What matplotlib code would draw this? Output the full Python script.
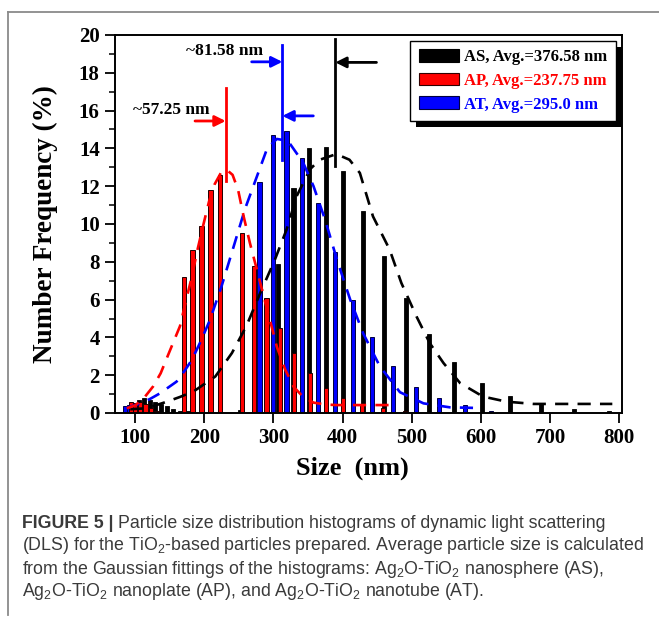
import matplotlib
matplotlib.use('Agg')
import matplotlib.pyplot as plt
from matplotlib.patches import Patch, Rectangle
from matplotlib.lines import Line2D
from matplotlib.transforms import IdentityTransform
from matplotlib.ticker import MultipleLocator

plt.rcParams['font.family'] = ['Liberation Serif', 'DejaVu Serif']
plt.rcParams['font.weight'] = 'bold'
plt.rcParams['axes.labelweight'] = 'bold'
plt.rcParams['mathtext.default'] = 'regular'

# ---------------- data ----------------
as_size = [106, 113, 121, 129, 137, 146, 155, 165, 176, 252, 307, 329, 351, 376, 401,
           430, 460, 492, 525, 561, 601, 642, 687, 735, 785]
as_freq = [0.7, 0.78, 0.7, 0.6, 0.5, 0.35, 0.2, 0.1, 0.08, 0.15, 7.9, 11.9, 14.0, 14.1, 12.8,
           10.7, 8.3, 6.1, 4.2, 2.7, 1.6, 0.9, 0.5, 0.2, 0.12]

ap_size = [94, 100, 107, 115, 123, 131, 171, 183, 196, 209, 223, 254, 272, 290, 309,
           330, 353, 376, 401, 428, 458, 490]
ap_freq = [0.6, 0.55, 0.6, 0.45, 0.25, 0.1, 7.2, 8.6, 9.9, 11.8, 12.6, 9.5, 7.8, 6.1, 4.5,
           3.2, 2.1, 1.3, 0.8, 0.47, 0.27, 0.1]

at_size = [86, 92, 99, 105, 112, 280, 299, 319, 341, 364, 389, 415, 443, 473, 506,
           540, 577, 615]
at_freq = [0.35, 0.4, 0.45, 0.4, 0.3, 12.2, 14.7, 14.9, 13.5, 11.1, 8.5, 6.0, 4.0, 2.5, 1.4,
           0.8, 0.4, 0.1]

# Gaussian fit curves
as_fit_x = [93, 117, 146, 165, 185, 216, 240, 261, 281, 302, 319, 334, 353, 367, 391, 410,
            425, 444, 468, 485, 507, 526, 546, 570, 603, 637, 676, 790]
as_fit_y = [0.2, 0.25, 0.6, 0.85, 1.15, 1.93, 3.17, 4.6, 6.35, 8.1, 9.7, 11.5, 12.9, 13.4,
            13.7, 13.4, 12.7, 10.4, 8.65, 6.88, 5.1, 3.7, 2.64, 1.58, 0.87, 0.6, 0.48, 0.48]

ap_fit_x = [88, 100, 113, 126, 137, 147, 156, 165, 174, 182, 190, 199, 207, 215, 224, 233,
            241, 249, 257, 266, 276, 283, 290, 298, 305, 317, 329, 343, 358, 375, 391, 430, 468]
ap_fit_y = [0.25, 0.4, 0.8, 1.4, 2.1, 3.0, 3.8, 4.6, 6.0, 7.2, 8.6, 10.0, 11.2, 12.1, 12.7,
            12.85, 12.6, 11.8, 10.4, 9.0, 7.6, 6.6, 5.6, 4.5, 3.5, 2.3, 1.4, 0.85, 0.55, 0.45,
            0.42, 0.42, 0.42]

at_fit_x = [88, 107, 122, 136, 148, 160, 171, 182, 195, 208, 225, 240, 259, 276, 291, 305,
            321, 343, 358, 375, 392, 411, 430, 454, 483, 517, 555, 590]
at_fit_y = [0.27, 0.5, 0.75, 1.04, 1.35, 1.66, 2.2, 2.8, 3.8, 4.9, 6.7, 8.5, 10.8, 12.5, 14.0,
            14.5, 14.4, 13.25, 12.0, 10.2, 8.1, 6.0, 4.2, 2.46, 1.1, 0.51, 0.3, 0.27]

legend_labels = ['AS, Avg.=376.58 nm', 'AP, Avg.=237.75 nm', 'AT, Avg.=295.0 nm']
x_ticks = [100, 200, 300, 400, 500, 600, 700, 800]
y_ticks = [0, 2, 4, 6, 8, 10, 12, 14, 16, 18, 20]

caption_lines = [
    'Particle size distribution histograms of dynamic light scattering',
    '(DLS) for the TiO$_\\mathregular{2}$-based particles prepared. Average particle size is calculated',
    'from the Gaussian fittings of the histograms: Ag$_\\mathregular{2}$O-TiO$_\\mathregular{2}$ nanosphere (AS),',
    'Ag$_\\mathregular{2}$O-TiO$_\\mathregular{2}$ nanoplate (AP), and Ag$_\\mathregular{2}$O-TiO$_\\mathregular{2}$ nanotube (AT).',
]

# ---------------- figure ----------------
W, H = 659, 621
fig = plt.figure(figsize=(W / 100, H / 100), dpi=100)
ax = fig.add_axes([115 / W, 1 - 413 / H, 507 / W, 378 / H])

BLUE = '#0000ff'
RED = '#ff0000'

ax.bar(as_size, as_freq, width=6, color='black', edgecolor='black', linewidth=0.6, zorder=2)
ax.bar(at_size, at_freq, width=6, color=BLUE, edgecolor='#000040', linewidth=0.7, zorder=2.1)
ax.bar(ap_size, ap_freq, width=6, color=RED, edgecolor='#200000', linewidth=0.7, zorder=2.2)

dash = (0, (5, 3.5))
ax.plot(as_fit_x, as_fit_y, color='black', lw=1.9, ls=dash, zorder=3)
ax.plot(at_fit_x, at_fit_y, color=BLUE, lw=1.9, ls=dash, zorder=3.1)
ax.plot(ap_fit_x, ap_fit_y, color=RED, lw=1.9, ls=dash, zorder=3.2)

# width annotations
def arrow(x0, x1, y, c):
    ax.annotate('', xy=(x1, y), xytext=(x0, y),
                arrowprops=dict(arrowstyle='-|>', color=c, lw=2, mutation_scale=16,
                                shrinkA=0, shrinkB=0), zorder=4)

ax.plot([231, 231], [12.3, 17.2], color=RED, lw=2, zorder=4)
arrow(186.7, 231, 15.45, RED)
ax.text(152.7, 16.04, '~57.25 nm', ha='center', va='center', fontsize=12.5, color='black')

ax.plot([313, 313], [13.4, 19.45], color=BLUE, lw=2, zorder=4)
arrow(268.6, 313, 18.58, BLUE)
arrow(357.7, 313, 15.72, BLUE)
ax.text(230, 19.17, '~81.58 nm', ha='center', va='center', fontsize=12.5, color='black')

ax.plot([389.5, 389.5], [13.07, 19.8], color='black', lw=2, zorder=4)
arrow(449, 389.5, 18.55, 'black')

# axes styling
ax.set_xlim(71, 804)
ax.set_ylim(0, 20)
ax.set_xticks(x_ticks)
ax.set_yticks(y_ticks)
ax.yaxis.set_minor_locator(MultipleLocator(1))
ax.tick_params(axis='both', which='major', direction='out', length=7, width=1.3,
               labelsize=15, pad=4, top=False, right=False)
ax.tick_params(axis='y', which='minor', direction='out', length=4, width=1.1)
for s in ax.spines.values():
    s.set_linewidth(1.4)

ax.set_xlabel('Size  (nm)', fontsize=19, fontweight='bold')
ax.xaxis.set_label_coords(0.469, -0.115)
ax.set_ylabel('Number Frequency (%)', fontsize=19.5, fontweight='bold')
ax.yaxis.set_label_coords(-0.112, 0.5)

# legend
handles = [Patch(facecolor='black', edgecolor='black', lw=0.8),
           Patch(facecolor=RED, edgecolor='#300000', lw=0.8),
           Patch(facecolor=BLUE, edgecolor='#000040', lw=0.8)]
leg = ax.legend(handles, legend_labels, loc='upper right', bbox_to_anchor=(0.988, 0.985),
                fancybox=False, framealpha=1, edgecolor='black', fontsize=12,
                handlelength=2.4, handleheight=0.8, handletextpad=0.35,
                borderpad=0.5, labelspacing=0.45, borderaxespad=0)
leg.get_frame().set_linewidth(1.0)
leg.set_zorder(6)
for t, c in zip(leg.get_texts(), ['black', RED, BLUE]):
    t.set_color(c)

# page frame lines
fig.add_artist(Line2D([8 / W, 1.0], [1 - 12 / H, 1 - 12 / H], color='#8a8a8a', lw=1.3,
                      transform=fig.transFigure))
fig.add_artist(Line2D([8 / W, 8 / W], [1 - 12 / H, 1 - 615 / H], color='#8a8a8a', lw=1.3,
                      transform=fig.transFigure))

# caption
cap_font = dict(family=['Liberation Sans', 'DejaVu Sans'], fontsize=12.8, color='#3a3a3a')
line_y = [523, 546, 569, 591]
t0 = fig.text(22 / W, 1 - line_y[0] / H, 'FIGURE 5 |', va='center', ha='left',
              fontweight='bold', **cap_font)

fig.canvas.draw()
r = fig.canvas.get_renderer()
bb = t0.get_window_extent(r)
fig.text((bb.x1 + 4) / W, 1 - line_y[0] / H, caption_lines[0], va='center', ha='left',
         fontweight='normal', **cap_font)
for yy, txt in zip(line_y[1:], caption_lines[1:]):
    fig.text(22 / W, 1 - yy / H, txt, va='center', ha='left', fontweight='normal', **cap_font)

# legend shadow
lb = leg.get_frame().get_window_extent(r)
ax.add_patch(Rectangle((lb.x0 + 6, lb.y0 - 6), lb.width, lb.height, facecolor='black',
                       edgecolor='none', transform=IdentityTransform(), zorder=5.5,
                       clip_on=False))
ax.set_xlim(71, 804)
ax.set_ylim(0, 20)

fig.savefig('out.png', dpi=100)
